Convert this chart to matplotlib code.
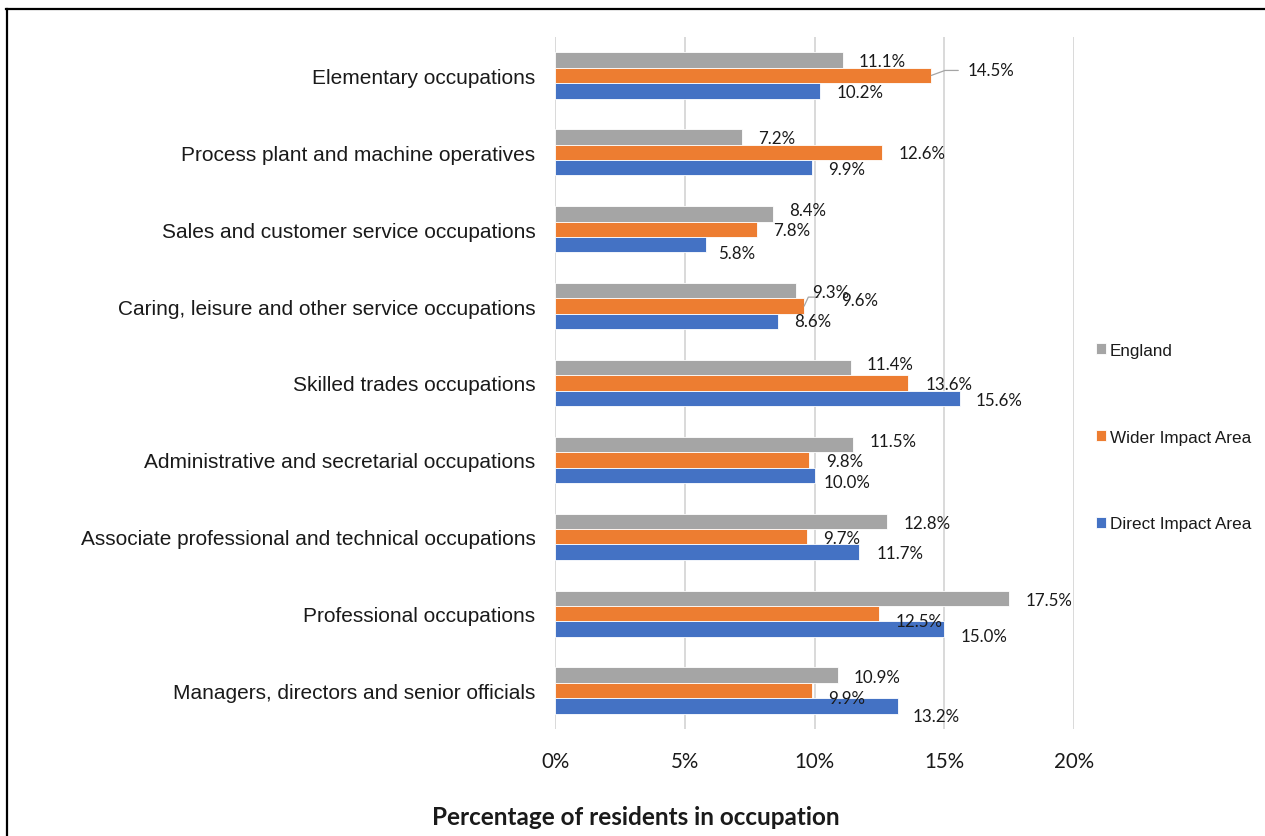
import matplotlib
matplotlib.use('Agg')
import matplotlib.pyplot as plt
from matplotlib.lines import Line2D
import numpy as np

# data (bottom to top, as drawn)
categories = [
    'Managers, directors and senior officials',
    'Professional occupations',
    'Associate professional and technical occupations',
    'Administrative and secretarial occupations',
    'Skilled trades occupations',
    'Caring, leisure and other service occupations',
    'Sales and customer service occupations',
    'Process plant and machine operatives',
    'Elementary occupations',
]
england = [10.9, 17.5, 12.8, 11.5, 11.4, 9.3, 8.4, 7.2, 11.1]
wider = [9.9, 12.5, 9.7, 9.8, 13.6, 9.6, 7.8, 12.6, 14.5]
direct = [13.2, 15.0, 11.7, 10.0, 15.6, 8.6, 5.8, 9.9, 10.2]
series_names = ['England', 'Wider Impact Area', 'Direct Impact Area']
ticks = [0, 5, 10, 15, 20]

colors = ['#A5A5A5', '#ED7D31', '#4472C4']

# label nudges in pixels (dx gap from bar end, dy downwards), per series per category
gap = {
    0: [16] * 9,
    1: [16, 16, 16, 17, 18, 37, 16, 17, 36],
    2: [15, 16, 18, 9, 16, 16, 13, 16, 17],
}
dy = {
    0: [1.5, 2, 1.5, -3.5, -3.5, 1.5, -4, 1.5, 1],
    1: [7, 7, 1, 1.5, 1.5, -6, 0.5, 0.5, -5],
    2: [10, 7, 1, 6.5, 1.5, 0, 8, 1.5, 1],
}
# leader lines for displaced labels: (series, category) -> (end dx px, end dy px up, angle)
leaders = {(1, 8): (27, 5, 20), (1, 5): (14, 9, 65)}

W, H = 1265, 837
fig = plt.figure(figsize=(W / 100, H / 100), dpi=100)
ax = fig.add_axes([555 / W, 1 - 730 / H, (1074 - 555) / W, (730 - 38) / H])

y = np.arange(len(categories))
h = 0.2
allvals = [england, wider, direct]
offsets = [h, 0, -h]
for s in range(3):
    ax.barh(y + offsets[s], allvals[s], height=h, color=colors[s],
            edgecolor='white', linewidth=0.6, label=series_names[s], zorder=3)

px = 0.72
for s in range(3):
    for i, v in enumerate(allvals[s]):
        ax.annotate(f'{v:.1f}%', xy=(v, y[i] + offsets[s]),
                    xytext=(gap[s][i] * px, -dy[s][i] * px), textcoords='offset points',
                    ha='left', va='center', fontsize=12.2, family='Lato',
                    color='#1a1a1a', zorder=5)
        if (s, i) in leaders:
            ex, ey, ang = leaders[(s, i)]
            ax.annotate('', xy=(v, y[i] + offsets[s]), xytext=(ex * px, ey * px),
                        textcoords='offset points',
                        arrowprops=dict(arrowstyle='-', color='#A5A5A5', lw=0.9,
                                        shrinkA=0, shrinkB=0,
                                        connectionstyle=f'angle,angleA=0,angleB={ang},rad=0'))

ax.set_xlim(0, 20)
ax.set_ylim(-0.5, 8.5)
ax.set_xticks(ticks)
ax.set_xticklabels([f'{t}%' for t in ticks], fontsize=14.8, family='Lato', color='#1a1a1a')
ax.set_yticks(y)
ax.set_yticklabels(categories, fontsize=15, family='Liberation Sans', color='#1a1a1a')
ax.tick_params(axis='x', length=0, pad=16)
ax.tick_params(axis='y', length=0, pad=14)
for sp in ax.spines.values():
    sp.set_visible(False)
ax.grid(axis='x', color='#D9D9D9', linewidth=1.4, zorder=0)
ax.set_axisbelow(True)

handles, labels = ax.get_legend_handles_labels()
leg = ax.legend(handles, labels, loc='center left', bbox_to_anchor=(1096 / W, 1 - 438 / H),
                bbox_transform=fig.transFigure, frameon=False, borderaxespad=0, borderpad=0,
                handlelength=0.6, handleheight=0.6, handletextpad=0.2, labelspacing=4.2,
                prop={'family': 'Liberation Sans', 'size': 12.3})
for t in leg.get_texts():
    t.set_color('#1a1a1a')

fig.text(636 / W, 1 - 818 / H, 'Percentage of residents in occupation', ha='center', va='center',
         fontsize=17.5, fontweight='bold', family='Lato', color='#1a1a1a')

# outer frame (top and left edges visible)
fig.add_artist(Line2D([6 / W, 1], [1 - 10 / H, 1 - 10 / H], transform=fig.transFigure,
                      color='black', linewidth=1.6))
fig.add_artist(Line2D([7 / W, 7 / W], [1 - 10 / H, 0], transform=fig.transFigure,
                      color='black', linewidth=1.6))

fig.savefig('out.png', dpi=100)
